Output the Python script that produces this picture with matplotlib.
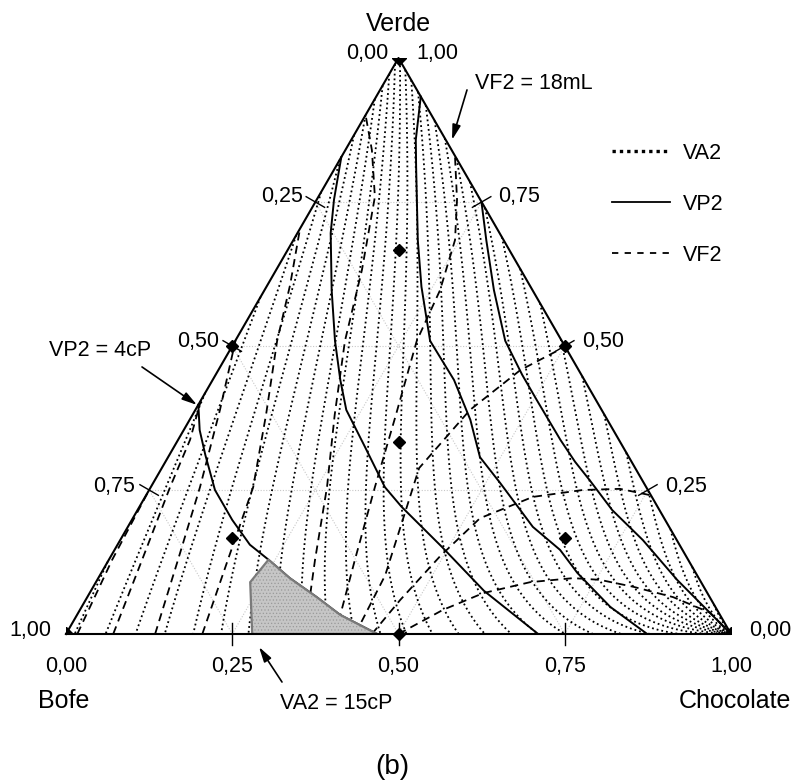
import numpy as np
import matplotlib.pyplot as plt
import matplotlib.tri as mtri
from matplotlib.lines import Line2D
from matplotlib.patches import Polygon

plt.rcParams['font.family'] = ['Liberation Sans', 'DejaVu Sans']
plt.rcParams['hatch.linewidth'] = 0.5

H = np.sqrt(3) / 2

# composicoes: fracao de Chocolate (c) e de Verde (v)
# pontos do planejamento
pts_c = [0, 1, 0, 0.5, 0, 0.5, 1/3, 1/6, 1/6, 2/3]
pts_v = [0, 0, 1, 0, 0.5, 0.5, 1/3, 2/3, 1/6, 1/6]

# VP2 (linhas solidas), do lado esquerdo para o direito
vp2_c = [
    [0.000, 0.024, 0.054, 0.099, 0.151, 0.199, 0.240, 0.288, 0.345, 0.396, 0.468],
    [0.000, 0.026, 0.050, 0.101, 0.150, 0.192, 0.227, 0.287, 0.352, 0.394, 0.490, 0.591, 0.710],
    [0.067, 0.097, 0.121, 0.187, 0.233, 0.293, 0.363, 0.422, 0.469, 0.522, 0.609, 0.670, 0.716, 0.795, 0.874],
    [0.251, 0.290, 0.345, 0.406, 0.461, 0.505, 0.575, 0.616, 0.654, 0.714, 0.786, 0.872, 1.000],
]
vp2_v = [
    [0.398, 0.354, 0.311, 0.250, 0.198, 0.155, 0.129, 0.097, 0.064, 0.033, 0.000],
    [0.828, 0.754, 0.696, 0.597, 0.509, 0.441, 0.389, 0.325, 0.255, 0.221, 0.151, 0.075, 0.000],
    [0.933, 0.858, 0.811, 0.684, 0.603, 0.509, 0.441, 0.372, 0.307, 0.262, 0.186, 0.146, 0.106, 0.047, 0.000],
    [0.748, 0.684, 0.597, 0.509, 0.450, 0.406, 0.337, 0.299, 0.267, 0.215, 0.163, 0.094, 0.000],
]

# VF2 (linhas tracejadas)
vf2_c = [
    [0.017, 0.005, 0.000],
    [0.071, 0.050, 0.029, 0.018, 0.000],
    [0.134, 0.104, 0.074, 0.037, 0.000],
    [0.205, 0.179, 0.154, 0.110, 0.063, 0.034, 0.001],
    [0.359, 0.310, 0.265, 0.214, 0.165, 0.129, 0.085, 0.040, 0.000],
    [0.402, 0.396, 0.370, 0.337, 0.306, 0.273, 0.264, 0.243, 0.211, 0.171],
    [0.435, 0.429, 0.387, 0.413, 0.454, 0.499],
    [0.460, 0.473, 0.495, 0.522, 0.583, 0.652, 0.707, 0.758],
    [0.500, 0.546, 0.592, 0.653, 0.714, 0.756, 0.812, 0.881, 0.950, 1.000],
]
vf2_v = [
    [0.000, 0.129, 0.250],
    [0.000, 0.129, 0.255, 0.337, 0.406],
    [0.000, 0.129, 0.255, 0.389, 0.510],
    [0.000, 0.129, 0.255, 0.382, 0.509, 0.606, 0.701],
    [0.000, 0.129, 0.255, 0.380, 0.509, 0.632, 0.759, 0.840, 0.901],
    [0.000, 0.033, 0.129, 0.255, 0.380, 0.509, 0.597, 0.684, 0.754, 0.828],
    [0.000, 0.102, 0.288, 0.389, 0.458, 0.497],
    [0.000, 0.059, 0.135, 0.201, 0.238, 0.250, 0.252, 0.241],
    [0.000, 0.042, 0.071, 0.090, 0.097, 0.094, 0.082, 0.064, 0.037, 0.000],
]

# regiao sombreada (VA2 >= 15 cP e VP2 <= 4 cP)
reg_c = [0.240, 0.232, 0.280, 0.468, 0.396, 0.345, 0.288]
reg_v = [0.129, 0.090, 0.000, 0.000, 0.033, 0.064, 0.097]

# superficie de VA2 (cP)
va2_focus = 0.20
va2_bend = 0.26
va2_squeeze = 2.0
va2_pow = 1.5
va2_ref = -11.95
va2_step = 2.1
va2_levels = np.arange(8, 46, 1)

grid_vals = [0.25, 0.50, 0.75]


def xy(c, v):
    c = np.asarray(c, float)
    v = np.asarray(v, float)
    return c + v / 2, v * H


fig = plt.figure(figsize=(7.93, 7.82), dpi=100)
ax = fig.add_axes([66 / 793, 148 / 782, 665 / 793, 576 / 782])
ax.set_xlim(0, 1)
ax.set_ylim(0, H)
ax.axis('off')

# grade
for g in grid_vals:
    for cs, vs in [([0, 1 - g], [g, g]), ([g, g], [0, 1 - g]), ([1 - g, 0], [0, 1 - g])]:
        ax.plot(*xy(cs, vs), color='#c8c8c8', lw=0.8, ls=(0, (1, 1.5)), zorder=1)

# contornos de VA2
n = 220
I, J = np.meshgrid(np.arange(n + 1), np.arange(n + 1))
m = I + J <= n
gc = I[m] / n
gv = J[m] / n
gx, gy = xy(gc, gv)
tri = mtri.Triangulation(gx, gy)
theta = np.degrees(np.arctan2(gx - 0.5, H + va2_focus - gy))
alpha = np.degrees(np.arctan2(va2_squeeze * gy, 1 - gx))
u = theta + va2_bend * alpha * gc ** va2_pow
va2 = 15 + (u - va2_ref) / va2_step
ax.tricontour(tri, va2, levels=va2_levels, colors='k', linewidths=1.3,
              linestyles='dotted', zorder=2)

for c, v in zip(vp2_c, vp2_v):
    ax.plot(*xy(c, v), color='k', lw=1.4, zorder=3)
for c, v in zip(vf2_c, vf2_v):
    ax.plot(*xy(c, v), color='k', lw=1.3, dashes=(4.5, 3), zorder=3)

rx, ry = xy(reg_c, reg_v)
ax.add_patch(Polygon(np.column_stack([rx, ry]), closed=True, facecolor='#c6c6c6',
                     edgecolor='#9a9a9a', hatch='.....', lw=0, zorder=4))
ax.add_patch(Polygon(np.column_stack([rx, ry]), closed=True, facecolor='none',
                     edgecolor='#7a7a7a', lw=1.6, zorder=4))

# triangulo
ax.plot(*xy([0, 1, 0, 0], [0, 0, 1, 0]), color='k', lw=1.5, zorder=5, clip_on=False)

# marcas nos lados
t = 0.016
for g in grid_vals:
    bx, by = xy(g, 0)
    ax.plot([bx, bx], [by - t, by + t], color='k', lw=1, zorder=5, clip_on=False)
    lx, ly = xy(0, 1 - g)
    ax.plot([lx - t * 0.866, lx + t * 0.866], [ly + t / 2, ly - t / 2], color='k', lw=1, zorder=5, clip_on=False)
    qx, qy = xy(1 - g, g)
    ax.plot([qx - t * 0.866, qx + t * 0.866], [qy - t / 2, qy + t / 2], color='k', lw=1, zorder=5, clip_on=False)

# pontos experimentais
px, py = xy(pts_c, pts_v)
ax.plot(px[:3], py[:3], 'kD', ms=7, zorder=6)
ax.plot(px[3:], py[3:], 'kD', ms=6.5, zorder=6, clip_on=False)

fs = 15.5
ax.text(0.5, 0.917, 'Verde', ha='center', va='center', fontsize=18)
ax.text(0.4526, 0.8722, '0,00', ha='center', va='center', fontsize=fs)
ax.text(0.5579, 0.8722, '1,00', ha='center', va='center', fontsize=fs)
for lab, yy, xl in zip(['0,25', '0,50', '0,75'], [0.6571, 0.4391, 0.2211],
                       [0.3248, 0.1985, 0.0722]):
    ax.text(xl, yy, lab, ha='center', va='center', fontsize=fs)
for lab, yy, xr in zip(['0,75', '0,50', '0,25'], [0.6571, 0.4391, 0.2211],
                       [0.6812, 0.8075, 0.9323]):
    ax.text(xr, yy, lab, ha='center', va='center', fontsize=fs)
ax.text(-0.0541, 0.006, '1,00', ha='center', va='center', fontsize=fs)
ax.text(1.0586, 0.006, '0,00', ha='center', va='center', fontsize=fs)
for g, lab in zip([0, 0.25, 0.5, 0.75, 1.0], ['0,00', '0,25', '0,50', '0,75', '1,00']):
    ax.text(g, -0.0496, lab, ha='center', va='center', fontsize=fs)
ax.text(-0.003, -0.1008, 'Bofe', ha='center', va='center', fontsize=18)
ax.text(1.006, -0.1008, 'Chocolate', ha='center', va='center', fontsize=18)
ax.text(0.4902, -0.2, '(b)', ha='center', va='center', fontsize=20)

arr = dict(arrowstyle='-|>,head_length=0.9,head_width=0.25', color='k', lw=1.2,
           shrinkA=0, shrinkB=0)
ax.text(0.406, -0.105, 'VA2 = 15cP', ha='center', va='center', fontsize=fs)
ax.annotate('', xy=(0.2902, -0.0195), xytext=(0.3248, -0.0722), arrowprops=arr,
            annotation_clip=False)
ax.text(0.0511, 0.4256, 'VP2 = 4cP', ha='center', va='center', fontsize=fs)
ax.annotate('', xy=(0.197, 0.3444), xytext=(0.1143, 0.4015), arrowprops=arr,
            annotation_clip=False)
ax.text(0.7038, 0.8271, 'VF2 = 18mL', ha='center', va='center', fontsize=fs)
ax.annotate('', xy=(0.5805, 0.7429), xytext=(0.603, 0.818), arrowprops=arr,
            annotation_clip=False)

handles = [Line2D([], [], color='k', lw=2.4, ls=(0, (1, 1.2))),
           Line2D([], [], color='k', lw=1.3),
           Line2D([], [], color='k', lw=1.3, dashes=(3.5, 3.5))]
ax.legend(handles, ['VA2', 'VP2', 'VF2'], loc='upper left', bbox_to_anchor=(0.821, 0.853),
          frameon=False, fontsize=fs, handlelength=2.7, handletextpad=0.6,
          labelspacing=1.4, borderpad=0, borderaxespad=0)

fig.savefig('out.png', dpi=100)
